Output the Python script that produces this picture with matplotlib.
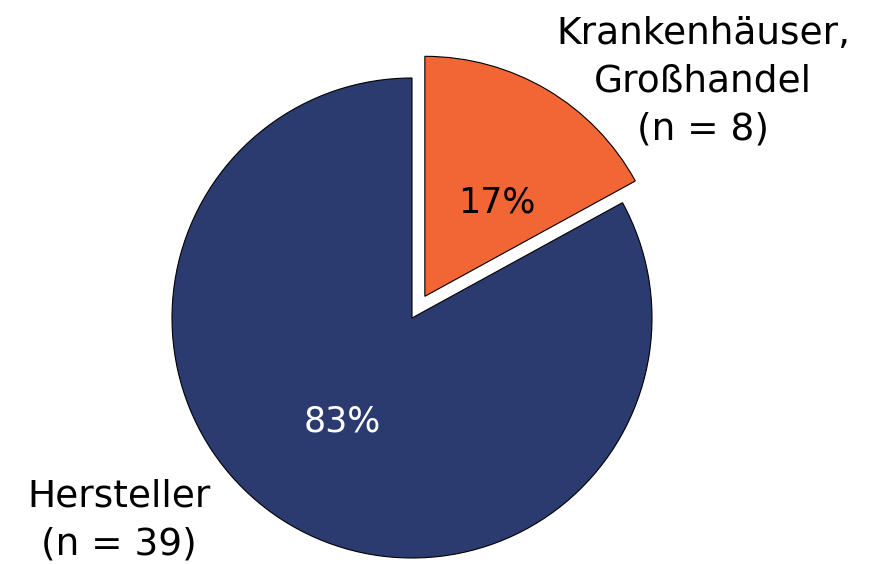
import matplotlib
matplotlib.use("Agg")
import matplotlib.pyplot as plt

labels = ["Krankenhäuser,\nGroßhandel\n(n = 8)", "Hersteller\n(n = 39)"]
counts = [8, 39]
colors = ["#F26534", "#2B3B6F"]
explode = [0.105, 0.0]

fig = plt.figure(figsize=(8.75, 5.64), dpi=100)
# square axes in pixels, pie centre at (412, 318) from top, radius 240 px
ax = fig.add_axes([(412 - 240) / 875, (564 - 318 - 240) / 564, 480 / 875, 480 / 564])

wedges, texts, autotexts = ax.pie(
    counts, colors=colors, explode=explode, startangle=90, counterclock=False,
    radius=1.0, autopct=lambda p: "%d%%" % round(p), pctdistance=0.5,
    wedgeprops=dict(edgecolor="black", linewidth=0.8),
    textprops=dict(fontsize=25, family="DejaVu Sans"))
autotexts[0].set_color("black")
autotexts[1].set_color("white")
# nudge the percentages to where they sit in the original
autotexts[0].set_position((0.354, 0.48))
autotexts[1].set_position((-0.29, -0.43))

ax.set_xlim(-1, 1)
ax.set_ylim(-1, 1)
ax.set_aspect("equal")
ax.axis("off")

ax.text(1.2125, 0.985, labels[0], ha="center", va="center", fontsize=27,
        linespacing=1.43, clip_on=False)
ax.text(-1.221, -0.845, labels[1], ha="center", va="center", fontsize=27,
        linespacing=1.43, clip_on=False)

fig.savefig("out.png", dpi=100)
